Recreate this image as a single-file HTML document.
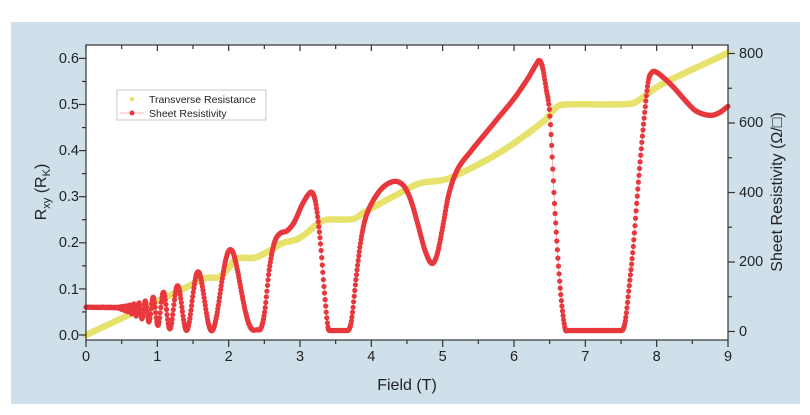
<!DOCTYPE html>
<html><head><meta charset="utf-8"><style>
html,body{margin:0;padding:0;background:#fff;width:810px;height:415px;overflow:hidden}
svg{display:block;font-family:"Liberation Sans",sans-serif}
</style></head><body>
<svg id="s" width="810" height="415" viewBox="0 0 810 415">
<rect x="11" y="22" width="789" height="382" fill="#cfe0ea"/>
<rect x="86" y="45" width="642" height="295" fill="#fff"/>
<g id="data"></g>
<rect x="86" y="45" width="642" height="295" fill="none" stroke="#333" stroke-width="1.2"/>
<g id="ticks" stroke="#333" stroke-width="1.2"></g>
<g font-size="14.5" fill="#222">
<text x="79" y="63" text-anchor="end">0.6</text>
<text x="79" y="109" text-anchor="end">0.5</text>
<text x="79" y="155" text-anchor="end">0.4</text>
<text x="79" y="201" text-anchor="end">0.3</text>
<text x="79" y="247" text-anchor="end">0.2</text>
<text x="79" y="294" text-anchor="end">0.1</text>
<text x="79" y="340" text-anchor="end">0.0</text>
<text x="739" y="58">800</text>
<text x="739" y="127">600</text>
<text x="739" y="197">400</text>
<text x="739" y="266">200</text>
<text x="739" y="336">0</text>
<text x="86" y="361" text-anchor="middle">0</text>
<text x="157.3" y="361" text-anchor="middle">1</text>
<text x="228.7" y="361" text-anchor="middle">2</text>
<text x="300" y="361" text-anchor="middle">3</text>
<text x="371.3" y="361" text-anchor="middle">4</text>
<text x="442.7" y="361" text-anchor="middle">5</text>
<text x="514" y="361" text-anchor="middle">6</text>
<text x="585.3" y="361" text-anchor="middle">7</text>
<text x="656.7" y="361" text-anchor="middle">8</text>
<text x="728" y="361" text-anchor="middle">9</text>
<text x="407" y="390" text-anchor="middle" font-size="16">Field (T)</text>
<text transform="translate(46,192) rotate(-90)" text-anchor="middle" font-size="16">R<tspan font-size="11" dy="4">xy</tspan><tspan dy="-4"> (R</tspan><tspan font-size="11" dy="4">K</tspan><tspan dy="-4">)</tspan></text>
<text transform="translate(782,192) rotate(-90)" text-anchor="middle" font-size="16">Sheet Resistivity (Ω/□)</text>
</g>
<rect x="117" y="90" width="149" height="30" fill="#fff" stroke="#bbb" stroke-width="0.8"/>
<circle cx="132" cy="99" r="2.3" fill="#e6e26c"/>
<line x1="120" y1="113" x2="144" y2="113" stroke="#f4a0a0" stroke-width="0.8"/>
<circle cx="132" cy="113" r="2.5" fill="#e8383d"/>
<text x="149" y="103" font-size="10.5" fill="#222">Transverse Resistance</text>
<text x="149" y="117" font-size="10.5" fill="#222">Sheet Resistivity</text>
</svg>
<script>
function X(b){return 86+b*71.333;}
function YL(r){return 335-r*461;}
function YR(p){return 331.5-p*69.5/200;}
var tk=document.getElementById('ticks'),h='';
for(var i=0;i<=12;i++){var y=335-i*23.05;h+='<line x1="86" x2="'+(i%2?82:79)+'" y1="'+y+'" y2="'+y+'"/>';}
for(var i=0;i<=8;i++){var y=331.5-i*34.75;h+='<line x1="728" x2="'+(i%2?732:735)+'" y1="'+y+'" y2="'+y+'"/>';}
for(var i=0;i<=18;i++){var x=86+i*35.667;h+='<line x1="'+x+'" x2="'+x+'" y1="340" y2="'+(i%2?344:347)+'"/>';h+='<line x1="'+x+'" x2="'+x+'" y1="45" y2="'+(i%2?49:51)+'"/>';}
tk.innerHTML=h;
function lerp(t,arr){for(var i=0;i<arr.length-1;i++){if(t<=arr[i+1][0]){var f=(t-arr[i][0])/(arr[i+1][0]-arr[i][0]);return arr[i][1]+f*(arr[i+1][1]-arr[i][1]);}}return arr[arr.length-1][1];}
function smooth(t,arr,flat){for(var i=0;i<arr.length-1;i++){if(t<=arr[i+1][0]){var p0=arr[Math.max(0,i-1)],p1=arr[i],p2=arr[i+1],p3=arr[Math.min(arr.length-1,i+2)];var u=(t-p1[0])/(p2[0]-p1[0]);var h=p2[0]-p1[0];var m1=(p2[1]-p0[1])/(p2[0]-p0[0])*h,m2=(p3[1]-p1[1])/(p3[0]-p1[0])*h;if(flat&&p1[1]<=5&&p2[1]<=5){m1=m2=0;}var u2=u*u,u3=u2*u;return (2*u3-3*u2+1)*p1[1]+(u3-2*u2+u)*m1+(-2*u3+3*u2)*p2[1]+(u3-u2)*m2;}}return arr[arr.length-1][1];}
// yellow
var YP=[[0,0],[0.84,0.061],[1.4,0.103],[1.6,0.119],[1.7,0.124],[1.87,0.126],[2.0,0.145],[2.1,0.165],[2.37,0.168],[2.6,0.185],[2.75,0.199],[2.95,0.207],[3.1,0.222],[3.27,0.244],[3.38,0.25],[3.75,0.252],[3.9,0.266],[4.4,0.308],[4.68,0.329],[5.0,0.336],[5.2,0.347],[5.8,0.396],[6.41,0.463],[6.6,0.495],[6.72,0.5],[7.65,0.502],[7.8,0.515],[8.05,0.542],[9,0.612]];
var pts=[];for(var B=0;B<=9.0001;B+=0.01)pts.push(X(B).toFixed(1)+','+YL(smooth(B,YP,false)).toFixed(1));
var d='<polyline points="'+pts.join(' ')+'" fill="none" stroke="#e6e26c" stroke-width="6.5" stroke-linecap="round" stroke-linejoin="round"/>';
// red
var PE=[[0,70],[0.45,70],[0.8,85],[1.05,110],[1.285,132],[1.565,171],[2.07,243],[2.4,260]];
var ME=[[0,70],[0.45,68],[0.65,50],[0.85,30],[1.0,18],[1.15,8],[1.4,3],[1.75,2],[2.4,4]];
var CP=[[2.34,4],[2.44,5],[2.5,50],[2.57,180],[2.64,255],[2.72,282],[2.82,290],[2.92,315],[3.03,365],[3.12,395],[3.17,400],[3.22,370],[3.28,270],[3.34,120],[3.39,15],[3.42,3],[3.67,3],[3.72,30],[3.79,160],[3.86,270],[3.93,334],[4.05,385],[4.18,418],[4.33,432],[4.45,420],[4.55,380],[4.65,310],[4.75,235],[4.846,196],[4.92,220],[5.0,300],[5.08,390],[5.2,463],[5.4,520],[5.6,570],[5.8,620],[6.0,670],[6.2,730],[6.3,765],[6.356,780],[6.4,760],[6.45,700],[6.505,617],[6.575,343],[6.65,120],[6.715,9],[6.75,3],[7.51,3],[7.56,30],[7.62,140],[7.673,247],[7.74,420],[7.81,584],[7.88,717],[7.93,745],[7.98,748],[8.1,730],[8.25,700],[8.4,665],[8.55,635],[8.75,622],[8.88,630],[8.98,645],[9,648]];
function rho(B){if(B<2.34){var P=lerp(B,PE),M=lerp(B,ME),nu=14.1/Math.max(B,0.01);return (P+M)/2-(P-M)/2*Math.cos(Math.PI*nu);}return Math.max(2,smooth(B,CP,true));}
var rp=[],c='';for(var B=0;B<=9.0001;B+=0.008){var x=X(B),y=YR(rho(B));rp.push(x.toFixed(1)+','+y.toFixed(1));c+='<circle cx="'+x.toFixed(1)+'" cy="'+y.toFixed(1)+'" r="2.6"/>';}
d+='<polyline points="'+rp.join(' ')+'" fill="none" stroke="#f4a0a0" stroke-width="0.8"/>';
d+='<g fill="#e8383d">'+c+'</g>';
document.getElementById('data').innerHTML=d;
</script>
</body></html>
